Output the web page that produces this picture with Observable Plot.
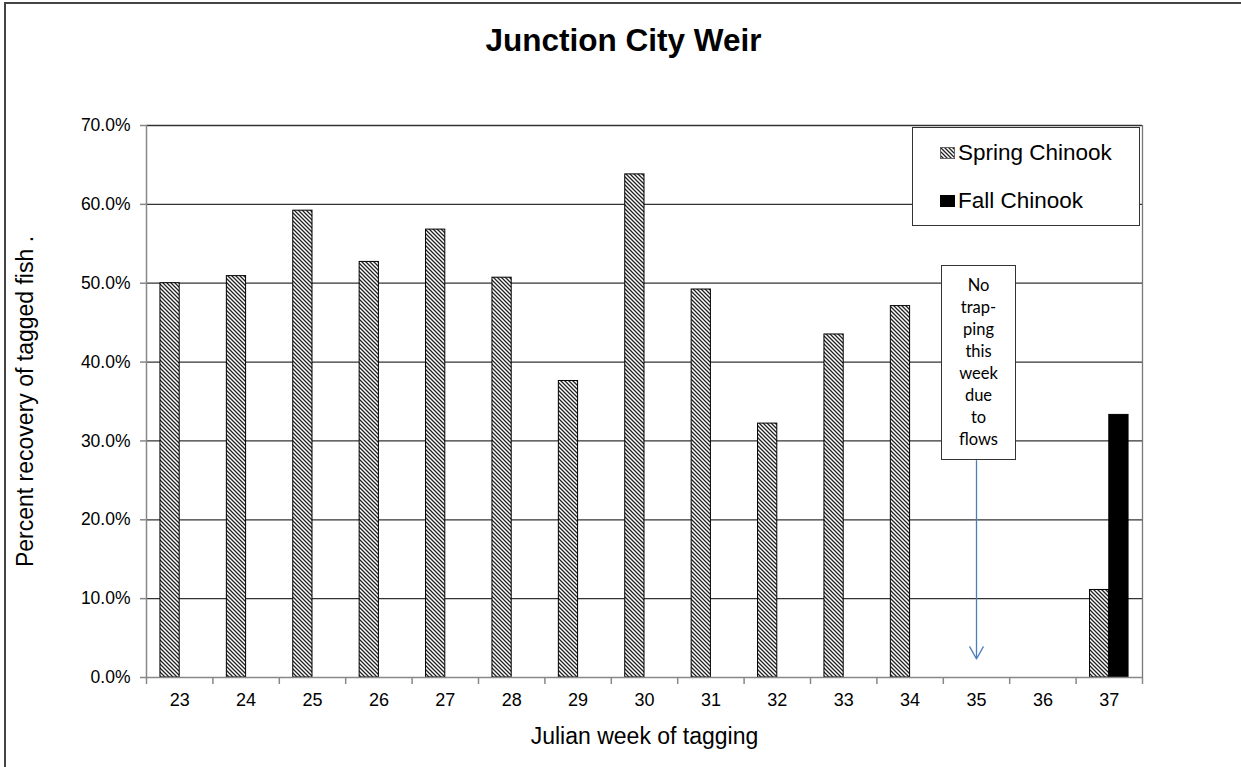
<!DOCTYPE html>
<html>
<head>
<meta charset="utf-8">
<script src="https://cdn.jsdelivr.net/npm/d3@7"></script>
<script src="https://cdn.jsdelivr.net/npm/@observablehq/plot@0.6"></script>
<style>
  html, body { margin: 0; padding: 0; background: #fff; }
  #wrap { position: relative; width: 1241px; height: 767px; overflow: hidden; font-family: "Liberation Sans", Arial, sans-serif; }
  #frame { position: absolute; left: 4px; top: 2px; width: 1300px; height: 800px; border-top: 2px solid #444; border-left: 2px solid #444; pointer-events: none; }
  #legend { position: absolute; left: 912px; top: 127px; width: 228px; height: 99px; border: 1px solid #333; background: #fff; box-sizing: border-box; font-size: 22.5px; color: #000; }
  #legend .item { position: absolute; left: 27px; display: flex; align-items: center; gap: 3px; }
  #note { position: absolute; left: 941px; top: 265px; width: 75px; height: 195px; border: 1px solid #333; background: #fff; box-sizing: border-box; text-align: center; font-family: Lato, "Liberation Sans", sans-serif; font-size: 16.5px; line-height: 22px; padding-top: 8px; color: #000; }
</style>
</head>
<body>
<div id="wrap">
  <div id="chart"></div>
  <div id="frame"></div>
  <div id="legend"></div>
  <div id="note"></div>
</div>
<script>
// ---- data ----
const weeks = [23, 24, 25, 26, 27, 28, 29, 30, 31, 32, 33, 34, 35, 36, 37];
const springChinook = [50.0, 50.9, 59.2, 52.7, 56.8, 50.7, 37.6, 63.8, 49.2, 32.2, 43.5, 47.1, null, null, 11.1];
const fallChinook = [null, null, null, null, null, null, null, null, null, null, null, null, null, null, 33.3];
const seriesNames = ["Spring Chinook", "Fall Chinook"];
const yTicks = [0, 0.1, 0.2, 0.3, 0.4, 0.5, 0.6, 0.7];
const titleText = "Junction City Weir";
const xLabel = "Julian week of tagging";
const yLabel = "Percent recovery of tagged fish .";
const noteLines = ["No", "trap-", "ping", "this", "week", "due", "to", "flows"];
const noteArrow = [{week: 35, from: 0.275, to: 0.0235}];

// ---- derived tables ----
const barW = 0.29;
const spring = weeks.map((w, i) => ({week: w, value: springChinook[i] == null ? null : springChinook[i] / 100})).filter(d => d.value != null);
const fall = weeks.map((w, i) => ({week: w, value: fallChinook[i] == null ? null : fallChinook[i] / 100})).filter(d => d.value != null);
const boundaries = [weeks[0] - 0.5, ...weeks.map(w => w + 0.5)];
const font = "Liberation Sans, Arial, sans-serif";

const chart = Plot.plot({
  width: 1241,
  height: 767,
  marginLeft: 146,
  marginRight: 99,
  marginTop: 125,
  marginBottom: 90,
  style: {fontFamily: font, background: "#fff", overflow: "visible"},
  x: {domain: [weeks[0] - 0.5, weeks[weeks.length - 1] + 0.5], axis: null},
  y: {domain: [0, 0.7], axis: null},
  marks: [
    Plot.ruleY(yTicks.slice(1), {stroke: "#333", strokeWidth: 1.3}),
    Plot.rectY(spring, {x1: d => d.week - barW, x2: d => d.week, y: "value", fill: "url(#hatch)", stroke: "#000", strokeWidth: 1}),
    Plot.rectY(fall, {x1: d => d.week, x2: d => d.week + barW, y: "value", fill: "#000", stroke: "#000", strokeWidth: 1}),
    Plot.ruleY([0], {stroke: "#888", strokeWidth: 1.5}),
    Plot.ruleX([boundaries[0]], {stroke: "#888", strokeWidth: 1.5}),
    Plot.ruleX([boundaries[boundaries.length - 1]], {stroke: "#777", strokeWidth: 1.3}),
    Plot.axisY({ticks: yTicks, tickFormat: d3.format(".1%"), tickSize: 6, tickPadding: 10, stroke: "#888", strokeWidth: 1.5, fill: "#000", fontSize: 17.5, label: null}),
    Plot.axisX({ticks: boundaries, tickSize: 7, tickFormat: () => "", stroke: "#888", strokeWidth: 1.5, label: null}),
    Plot.axisX({ticks: weeks, tickSize: 0, tickPadding: 16, tickFormat: d => String(d), fill: "#000", fontSize: 18, label: null}),
    Plot.arrow(noteArrow, {x1: "week", x2: "week", y1: "from", y2: "to", stroke: "#4a7ebb", strokeWidth: 1.3, headLength: 16, headAngle: 58}),
    Plot.text([titleText], {text: d => d, frameAnchor: "top", lineAnchor: "middle", dy: -85, dx: -21, fontSize: 31.5, fontWeight: "bold", fill: "#000"}),
    Plot.text([xLabel], {text: d => d, frameAnchor: "bottom", lineAnchor: "middle", dy: 59, fontSize: 23, fill: "#000"}),
    Plot.text([yLabel], {text: d => d, frameAnchor: "left", textAnchor: "middle", lineAnchor: "middle", dx: -121, rotate: -90, fontSize: 23, fill: "#000"})
  ]
});

// hatch pattern definition
const ns = "http://www.w3.org/2000/svg";
function addHatch(svg, id) {
  const defs = document.createElementNS(ns, "defs");
  const pat = document.createElementNS(ns, "pattern");
  pat.setAttribute("id", id);
  pat.setAttribute("patternUnits", "userSpaceOnUse");
  pat.setAttribute("width", "4");
  pat.setAttribute("height", "4");
  const bg = document.createElementNS(ns, "rect");
  bg.setAttribute("width", "4"); bg.setAttribute("height", "4"); bg.setAttribute("fill", "#fff");
  const p = document.createElementNS(ns, "path");
  p.setAttribute("d", "M-1,-1L5,5M3,-1L5,1M-1,3L1,5");
  p.setAttribute("stroke", "#222");
  p.setAttribute("stroke-width", "1.3");
  pat.appendChild(bg); pat.appendChild(p); defs.appendChild(pat);
  svg.insertBefore(defs, svg.firstChild);
}
addHatch(chart, "hatch");
document.getElementById("chart").appendChild(chart);

// legend
const legend = document.getElementById("legend");
seriesNames.forEach((name, i) => {
  const item = document.createElement("div");
  item.className = "item";
  item.style.top = (i === 0 ? 12 : 60) + "px";
  const sw = document.createElementNS(ns, "svg");
  sw.setAttribute("width", "15"); sw.setAttribute("height", "12");
  if (i === 0) addHatch(sw, "hatchLegend");
  const r = document.createElementNS(ns, "rect");
  r.setAttribute("x", "0.5"); r.setAttribute("y", "0.5"); r.setAttribute("width", "14"); r.setAttribute("height", "11");
  r.setAttribute("fill", i === 0 ? "url(#hatchLegend)" : "#000");
  r.setAttribute("stroke", i === 0 ? "#666" : "#000");
  sw.appendChild(r);
  const t = document.createElement("span");
  t.textContent = name;
  item.appendChild(sw); item.appendChild(t);
  legend.appendChild(item);
});

// note box
document.getElementById("note").innerHTML = noteLines.join("<br>");
</script>
</body>
</html>
